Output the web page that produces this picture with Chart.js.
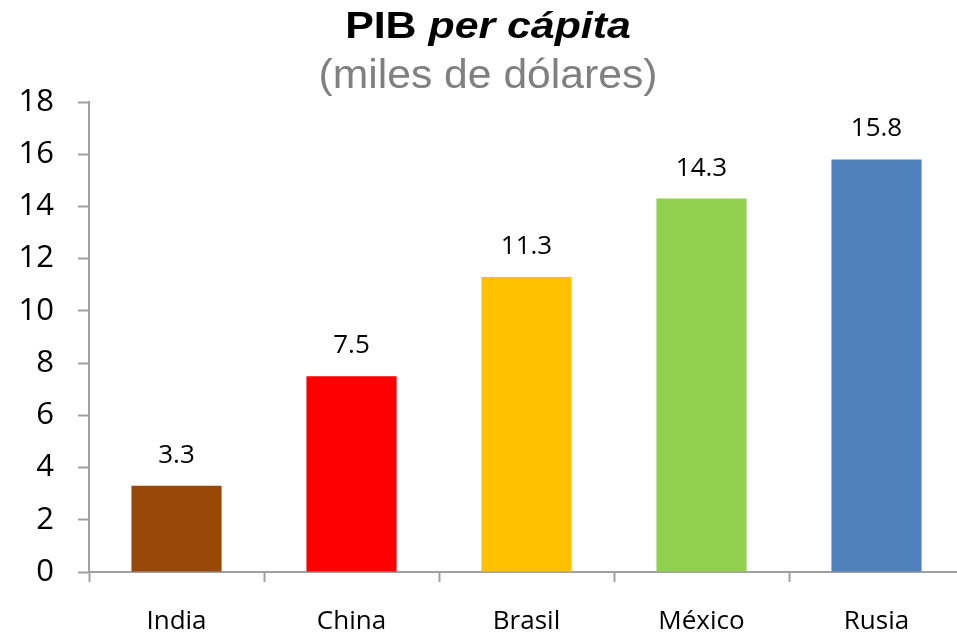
<!DOCTYPE html>
<html>
<head>
<meta charset="utf-8">
<script src="https://cdn.jsdelivr.net/npm/chart.js@4/dist/chart.umd.min.js"></script>
<style>
  html, body { margin: 0; padding: 0; background: #fff; overflow: hidden; }
  #wrap { position: relative; width: 970px; height: 634px; }
  #chart { display: block; }
  .title {
    position: absolute; left: 0; width: 976px; text-align: center;
    font-family: "Liberation Sans", Arial, sans-serif; white-space: nowrap;
    transform-origin: 488px 0;
  }
  #mainTitle { top: 4px; font-size: 36px; font-weight: bold; color: #000; line-height: 44px; transform: scaleX(1.19); }
  #subTitle { top: 50px; font-size: 40px; color: #808080; line-height: 48px; transform: scaleX(1.066); }
</style>
</head>
<body>
<div id="wrap">
  <canvas id="chart" width="970" height="634"></canvas>
  <div class="title" id="mainTitle">PIB <i>per cápita</i></div>
  <div class="title" id="subTitle">(miles de dólares)</div>
</div>
<script>
const categories = ["India", "China", "Brasil", "México", "Rusia"];
const gdpValues = [3.3, 7.5, 11.3, 14.3, 15.8];
const barColors = ["#984807", "#ff0000", "#ffc000", "#92d050", "#4f81bd"];
const yTicks = [0, 2, 4, 6, 8, 10, 12, 14, 16, 18];

const axisColor = "#a0a0a0";
const tickFont = "'Open Sans', sans-serif";

// value printed over each bar
const valueLabels = {
  id: "valueLabels",
  afterDatasetsDraw(chart) {
    const ctx = chart.ctx;
    const meta = chart.getDatasetMeta(0);
    ctx.save();
    ctx.font = "26px " + tickFont;
    ctx.fillStyle = "#000";
    ctx.textAlign = "center";
    ctx.textBaseline = "alphabetic";
    meta.data.forEach((bar, i) => {
      ctx.fillText(gdpValues[i].toFixed(1), bar.x, bar.y - 23);
    });
    ctx.restore();
  }
};

new Chart(document.getElementById("chart"), {
  type: "bar",
  data: {
    labels: categories,
    datasets: [
      {
        data: gdpValues,
        backgroundColor: barColors,
        barPercentage: 1,
        categoryPercentage: 0.515
      }
    ]
  },
  options: {
    responsive: false,
    animation: false,
    layout: { padding: { top: 102, right: 6, left: 0, bottom: 0 } },
    plugins: {
      legend: { display: false },
      tooltip: { enabled: false }
    },
    scales: {
      x: {
        afterFit(scale) { scale.height = 62; },
        border: { color: axisColor, width: 2 },
        grid: {
          offset: true,
          drawOnChartArea: false,
          drawTicks: true,
          tickLength: 10,
          tickWidth: 2,
          color: axisColor
        },
        ticks: {
          color: "#000",
          font: { family: tickFont, size: 26 },
          padding: 24
        }
      },
      y: {
        min: 0,
        max: 18,
        afterFit(scale) { scale.width = 89; },
        afterBuildTicks(scale) {
          scale.ticks = yTicks.map(v => ({ value: v }));
        },
        border: { color: axisColor, width: 2 },
        grid: {
          drawOnChartArea: false,
          drawTicks: true,
          tickLength: 11,
          tickWidth: 2,
          color: axisColor
        },
        ticks: {
          color: "#000",
          font: { family: tickFont, size: 31 },
          padding: 24
        }
      }
    }
  },
  plugins: [valueLabels]
});
</script>
</body>
</html>
